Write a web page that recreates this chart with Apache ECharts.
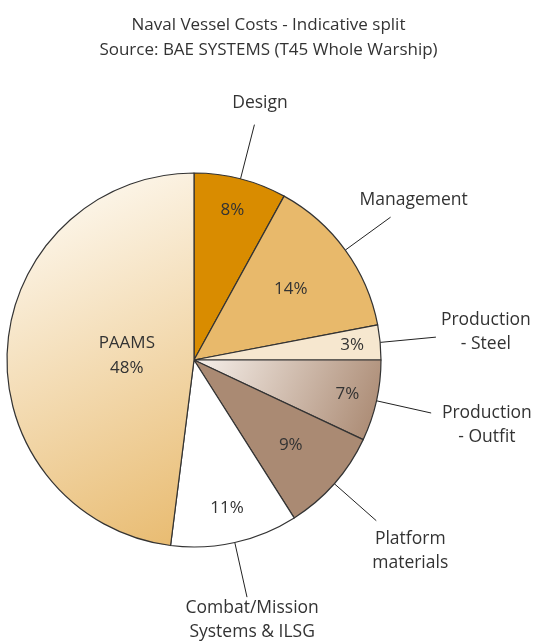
<!DOCTYPE html>
<html>
<head>
<meta charset="utf-8">
<script src="https://cdn.jsdelivr.net/npm/echarts@6/dist/echarts.min.js"></script>
<style>
  html, body { margin: 0; padding: 0; background: #fff; }
  #main { width: 537px; height: 644px; }
</style>
</head>
<body>
<div id="main"></div>
<script>
const categories = ['Design', 'Management', 'Production\n- Steel', 'Production\n- Outfit', 'Platform\nmaterials', 'Combat/Mission\nSystems & ILSG', 'PAAMS']
const shares = [8, 14, 3, 7, 9, 11, 48]

// styling
const sliceColors = [
  '#d98c00',
  '#e8b96b',
  '#f6e7cf',
  { type: 'linear', x: 0, y: 0, x2: 1, y2: 1, colorStops: [{ offset: 0, color: '#f7f1ec' }, { offset: 1, color: '#a7856d' }] },
  '#aa8a73',
  '#ffffff',
  { type: 'linear', x: 0, y: 0, x2: 1, y2: 1, colorStops: [{ offset: 0, color: '#fffefb' }, { offset: 1, color: '#e8ba6e' }] }
]
// how far out (fraction of radius) each percent label sits
const innerLabelFrac = [0.825, 0.64, 0.85, 0.84, 0.69, 0.81, 0.36]
// space between leader line end and name label
const nameLabelGap = [10, 8, 5, 11, 9, -1, 0]

const CX = 194
const CY = 360
const R = 187
const font = '"Open Sans", "Noto Sans", sans-serif'
const textColor = '#333'

const chart = echarts.init(document.getElementById('main'))

const pieData = categories.map((name, i) => ({
  name: name,
  value: shares[i],
  itemStyle: { color: sliceColors[i] },
  label: i === 6 ? { formatter: 'PAAMS\n{c}%' } : {}
}))

const nameData = categories.map((name, i) => ({
  name: name,
  value: shares[i],
  label: { show: i !== 6 },
  labelLine: { show: i !== 6 }
}))

chart.setOption({
  animation: false,
  title: {
    text: 'Naval Vessel Costs - Indicative split\nSource: BAE SYSTEMS (T45 Whole Warship)',
    left: 'center',
    top: 8,
    textStyle: {
      fontFamily: font,
      fontSize: 17,
      fontWeight: 'normal',
      lineHeight: 25,
      color: textColor
    }
  },
  series: [
    {
      type: 'pie',
      center: [CX, CY],
      radius: [0, R],
      startAngle: 90,
      clockwise: true,
      avoidLabelOverlap: false,
      itemStyle: { borderColor: '#333', borderWidth: 1.2 },
      label: {
        show: true,
        position: 'inside',
        formatter: '{c}%',
        fontFamily: font,
        fontSize: 17,
        lineHeight: 25,
        color: textColor
      },
      labelLine: { show: false },
      labelLayout: function (params) {
        const r = params.labelRect
        const lx = r.x + r.width / 2 - CX
        const ly = r.y + r.height / 2 - CY
        const d = Math.sqrt(lx * lx + ly * ly) || 1
        const dist = innerLabelFrac[params.dataIndex] * R
        return {
          x: CX + lx / d * dist,
          y: CY + ly / d * dist,
          align: 'center',
          verticalAlign: 'middle'
        }
      },
      emphasis: { disabled: true },
      data: pieData
    },
    {
      type: 'pie',
      center: [CX, CY],
      radius: [0, R],
      startAngle: 90,
      clockwise: true,
      silent: true,
      avoidLabelOverlap: false,
      itemStyle: { color: 'rgba(0,0,0,0)', borderWidth: 0 },
      label: {
        show: true,
        position: 'outside',
        fontFamily: font,
        fontSize: 17.5,
        lineHeight: 24,
        color: textColor
      },
      labelLine: {
        show: true,
        length: 56,
        length2: 0,
        smooth: false,
        lineStyle: { color: '#222', width: 1 }
      },
      labelLayout: function (params) {
        const pts = params.labelLinePoints
        if (!pts || pts.length < 2) return {}
        const p0 = pts[0]
        const p1 = pts[1]
        let dx = p1[0] - p0[0]
        let dy = p1[1] - p0[1]
        const d = Math.sqrt(dx * dx + dy * dy) || 1
        dx /= d
        dy /= d
        const w = params.labelRect.width
        const h = params.labelRect.height
        const t = Math.min(
          Math.abs(dx) > 1e-6 ? w / 2 / Math.abs(dx) : 1e9,
          Math.abs(dy) > 1e-6 ? h / 2 / Math.abs(dy) : 1e9
        )
        const gap = nameLabelGap[params.dataIndex]
        return {
          x: p1[0] + dx * (t + gap),
          y: p1[1] + dy * (t + gap),
          align: 'center',
          verticalAlign: 'middle',
          labelLinePoints: [p0, p1]
        }
      },
      emphasis: { disabled: true },
      data: nameData
    }
  ]
})
</script>
</body>
</html>
